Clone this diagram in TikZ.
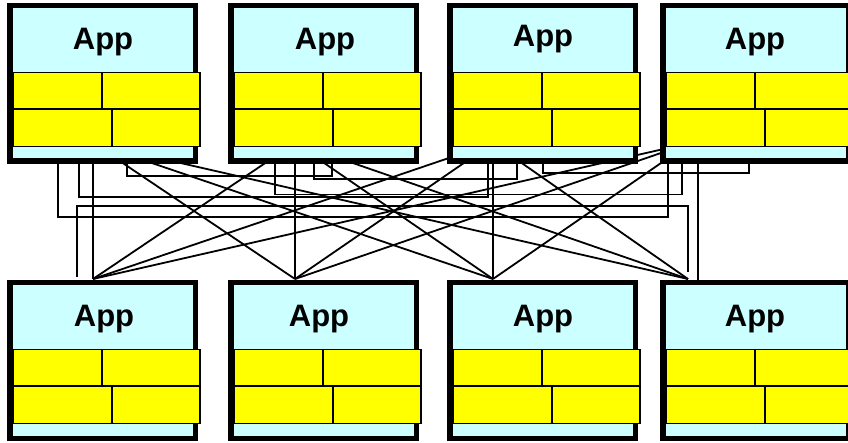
\documentclass[tikz,border=0pt]{standalone}
\usepackage{fontspec}
\setmainfont{Liberation Sans}
\usetikzlibrary{calc}
\definecolor{appcyan}{HTML}{CCFFFF}
\definecolor{brickyellow}{HTML}{FFFF00}

\begin{document}
\begin{tikzpicture}[x=1pt,y=-1pt,
  link/.style={line width=1.8pt, line join=miter, line cap=butt},
  appframe/.style={draw=black, line width=5.5pt, fill=appcyan},
  brick/.style={draw=black, line width=1.8pt, fill=brickyellow},
  brickjoint/.style={draw=black, line width=1.8pt},
  applabel/.style={font=\bfseries\fontsize{31}{36}\selectfont, anchor=base, inner sep=0pt},
  pics/appunit/.style={code={
    % outer frame of the application
    \path[appframe] (2.75,2.75) rectangle (188.25,158.25);
    % two courses of bricks
    \path[brick] (6,69.5) rectangle (193,106);
    \path[brick] (6,106) rectangle (193,143.5);
    \path[brickjoint] (95,69.5) -- (95,106);
    \path[brickjoint] (105,106) -- (105,143.5);
    \node[applabel] (-label) at ($(96,46.5)+(#1)$) {App};
  }},
  pics/appunit/.default={0,0}
]
\useasboundingbox (0,0) rectangle (848,443);

% hub points of each column
\coordinate (t1) at (93,143);
\coordinate (t2) at (295,143);
\coordinate (t3) at (493,143);
\coordinate (t4) at (690,143);
\coordinate (b1) at (93,279);
\coordinate (b2) at (295,279);
\coordinate (b3) at (493,279);
\coordinate (b4) at (688,279);
\coordinate (t4v) at (698,143);
\coordinate (b4v) at (698,280);

% point-to-point diagonals between upper and lower applications
\foreach \i in {1,...,4}{
  \foreach \j in {1,...,4}{
    \ifnum\i=\j\else
      \draw[link] (t\i) -- (b\j);
    \fi
  }
}
% straight drops inside each column
\draw[link] (t1) -- (b1);
\draw[link] (t2) -- (b2);
\draw[link] (t3) -- (b3);
\draw[link] (t4v) -- (b4v);

% ports for the routed links
\coordinate (u1a) at (58,150);
\coordinate (u1b) at (79,150);
\coordinate (u1c) at (127,150);
\coordinate (u2a) at (275,150);
\coordinate (u2b) at (314,150);
\coordinate (u2c) at (332,150);
\coordinate (u3a) at (488,150);
\coordinate (u3b) at (517,150);
\coordinate (u3c) at (543,150);
\coordinate (u4a) at (668,150);
\coordinate (u4b) at (682,150);
\coordinate (u4c) at (749,150);
\coordinate (l1a) at (77,277);
\coordinate (l4a) at (688,272);

% levels of the horizontal runs
\coordinate (h14) at (0,217);
\coordinate (h13) at (0,197);
\coordinate (h24) at (0,194.5);
\coordinate (h12) at (0,176);
\coordinate (h23) at (0,179);
\coordinate (h34) at (0,173);
\coordinate (h58) at (0,206);

\draw[link] (u1a) -- (u1a |- h14) -- (u4a |- h14) -- (u4a);
\draw[link] (u1b) -- (u1b |- h13) -- (u3a |- h13) -- (u3a);
\draw[link] (u2a) -- (u2a |- h24) -- (u4b |- h24) -- (u4b);
\draw[link] (u1c) -- (u1c |- h12) -- (u2c |- h12) -- (u2c);
\draw[link] (u2b) -- (u2b |- h23) -- (u3b |- h23) -- (u3b);
\draw[link] (u3c) -- (u3c |- h34) -- (u4c |- h34) -- (u4c);
\draw[link] (l1a) -- (l1a |- h58) -- (l4a |- h58) -- (l4a);

% upper row of applications
\pic (T1) at (7,3) {appunit};
\pic (T2) at (228,3) {appunit={1,0}};
\pic (T3) at (447,3) {appunit={0,-3}};
\pic (T4) at (660,3) {appunit={-1,0}};
% lower row of applications
\pic (B1) at (7,280) {appunit={1,0}};
\pic (B2) at (228,280) {appunit={-5,0}};
\pic (B3) at (447,280) {appunit};
\pic (B4) at (660,280) {appunit={-1,0}};
\end{tikzpicture}
\end{document}
